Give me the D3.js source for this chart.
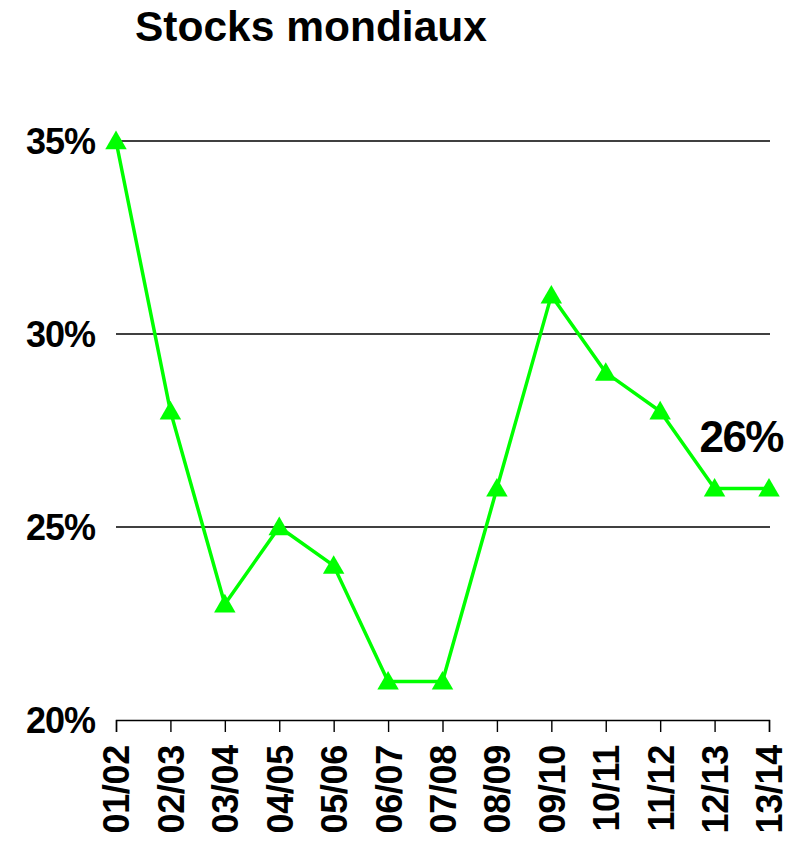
<!DOCTYPE html>
<html>
<head>
<meta charset="utf-8">
<script src="https://cdn.jsdelivr.net/npm/d3@7"></script>
<style>
  body { margin: 0; background: #fff; }
  text { font-family: "Liberation Sans", Arial, sans-serif; font-weight: bold; fill: #000; }
</style>
</head>
<body>
<script>
// campaigns and world stock ratio (%)
const seasons = ["01/02","02/03","03/04","04/05","05/06","06/07","07/08","08/09","09/10","10/11","11/12","12/13","13/14"];
const stocks = [35, 28, 23, 25, 24, 21, 21, 26, 31, 29, 28, 26, 26];
const yTicks = [20, 25, 30, 35];
const lastLabel = "26%";

const width = 796, height = 846;

const svg = d3.select("body").append("svg")
    .attr("width", width)
    .attr("height", height);

const x = d3.scalePoint().domain(seasons).range([116, 769]);
const y = d3.scaleLinear().domain([20, 35]).range([720, 141]);

// title
svg.append("text")
    .attr("x", 135).attr("y", 41)
    .attr("font-size", 42.5)
    .text("Stocks mondiaux");

// gridlines
svg.selectAll("line.grid")
    .data(yTicks.filter(d => d > 20))
    .enter().append("line")
    .attr("class", "grid")
    .attr("x1", 116).attr("x2", 770)
    .attr("y1", d => y(d)).attr("y2", d => y(d))
    .attr("stroke", "#000").attr("stroke-width", 1.4);

// y labels
svg.selectAll("text.ylab")
    .data(yTicks)
    .enter().append("text")
    .attr("class", "ylab")
    .attr("x", 95)
    .attr("y", d => y(d))
    .attr("dy", "0.36em")
    .attr("text-anchor", "end")
    .attr("font-size", 36)
    .attr("letter-spacing", -1)
    .text(d => d + "%");

// x axis
const xAxis = d3.axisBottom(x).tickSizeInner(12).tickSizeOuter(12);
const gx = svg.append("g")
    .attr("transform", `translate(0, ${y(20)})`)
    .call(xAxis);
gx.select(".domain").attr("stroke", "#000").attr("stroke-width", 1.4);
gx.selectAll(".tick line").attr("stroke", "#000").attr("stroke-width", 1.4);
gx.selectAll(".tick text")
    .attr("font-size", 36)
    .attr("font-family", "Liberation Sans, Arial, sans-serif")
    .attr("font-weight", "bold")
    .attr("fill", "#000")
    .attr("letter-spacing", -0.3)
    .attr("text-anchor", "end")
    .attr("transform", "rotate(-90)")
    .attr("x", -25)
    .attr("y", 0)
    .attr("dy", "0.36em");

// line
const line = d3.line()
    .x((d, i) => x(seasons[i]))
    .y(d => y(d));

svg.append("path")
    .datum(stocks)
    .attr("d", line)
    .attr("fill", "none")
    .attr("stroke", "#00ff00")
    .attr("stroke-width", 3.5);

// markers
svg.selectAll("path.mk")
    .data(stocks)
    .enter().append("path")
    .attr("class", "mk")
    .attr("d", d3.symbol().type(d3.symbolTriangle).size(200))
    .attr("transform", (d, i) => `translate(${x(seasons[i])}, ${y(d) + 2})`)
    .attr("fill", "#00ff00");

// last value label
svg.append("text")
    .attr("x", 783).attr("y", 452)
    .attr("text-anchor", "end")
    .attr("font-size", 44)
    .attr("letter-spacing", -1.5)
    .text(lastLabel);
</script>
</body>
</html>
